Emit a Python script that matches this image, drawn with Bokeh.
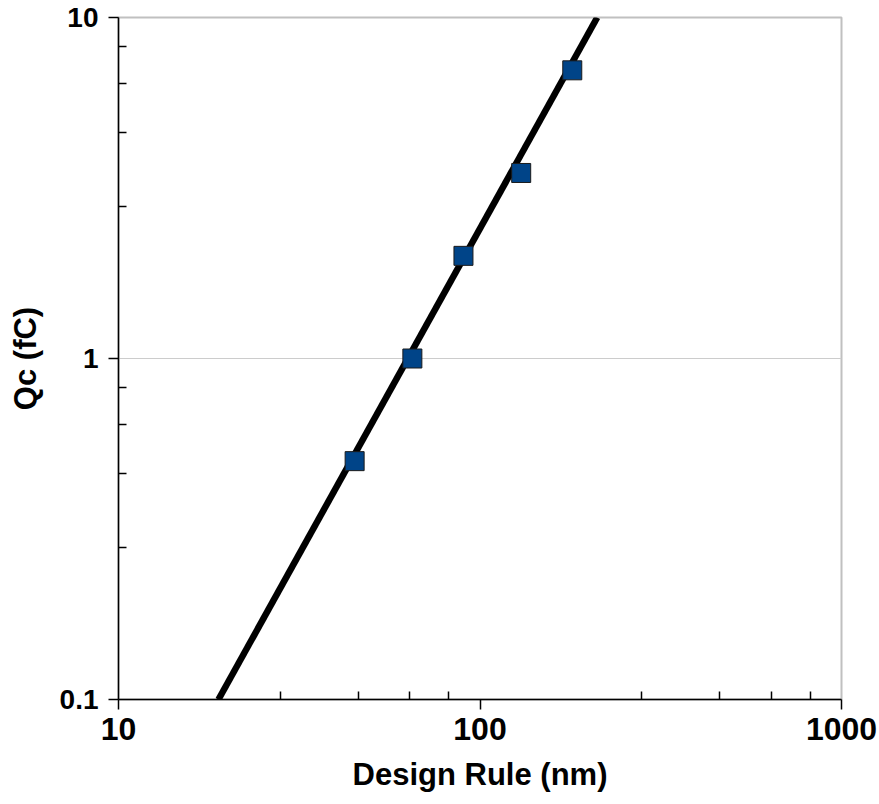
from bokeh.plotting import figure
from bokeh.models import FixedTicker, NumeralTickFormatter, ColumnDataSource
from bokeh.embed import file_html
from bokeh.resources import INLINE

# Critical charge versus technology node
design_rule_nm = [45, 65, 90, 130, 180]
qc_fc = [0.5, 1.0, 2.0, 3.5, 7.0]

# Power-law trend line end points (spans the full plot height)
trend_x = [18.9, 211.0]
trend_y = [0.1, 10.0]

x_major = [10, 100, 1000]
y_major = [0.1, 1, 10]


def decade_minors(majors):
    # five equal linear steps inside each decade
    out = []
    for m in majors[:-1]:
        out += [m * (1 + 1.8 * k) for k in range(1, 5)]
    return out


p = figure(
    width=879, height=804,
    x_axis_type="log", y_axis_type="log",
    x_range=(10, 1000), y_range=(0.1, 10),
    output_backend="svg", toolbar_location=None,
    min_border_left=118, min_border_right=38,
    min_border_top=17, min_border_bottom=105,
)
p.background_fill_color = "white"
p.border_fill_color = "white"
p.outline_line_color = "#c0c0c0"
p.outline_line_width = 2

p.line(trend_x, trend_y, line_color="black", line_width=6.5)

src = ColumnDataSource(dict(x=design_rule_nm, y=qc_fc))
p.scatter("x", "y", source=src, marker="square", size=19,
          fill_color="#004488", line_color="#1a1a1a", line_width=1)

p.xaxis.ticker = FixedTicker(ticks=x_major, minor_ticks=decade_minors(x_major))
p.yaxis.ticker = FixedTicker(ticks=y_major, minor_ticks=decade_minors(y_major))
p.xaxis.formatter = NumeralTickFormatter(format="0[.][0]")
p.yaxis.formatter = NumeralTickFormatter(format="0[.][0]")

for ax in (p.xaxis, p.yaxis):
    ax.axis_line_color = "black"
    ax.axis_line_width = 1.5
    ax.major_tick_line_color = "black"
    ax.major_tick_line_width = 1.5
    ax.minor_tick_line_color = "black"
    ax.minor_tick_line_width = 1.5
    ax.major_tick_out = 10
    ax.major_tick_in = 0
    ax.minor_tick_out = 0
    ax.minor_tick_in = 8
    ax.major_label_text_font = "Liberation Sans"
    ax.major_label_text_font_style = "bold"
    ax.major_label_text_color = "black"
    ax.axis_label_text_font = "Liberation Sans"
    ax.axis_label_text_font_style = "bold"
    ax.axis_label_text_font_size = "31px"
    ax.axis_label_text_color = "black"

p.xaxis.major_label_text_font_size = "32px"
p.yaxis.major_label_text_font_size = "28px"

p.xaxis.axis_label = "Design Rule (nm)"
p.yaxis.axis_label = "Qc (fC)"
p.xaxis.major_label_standoff = 8
p.yaxis.major_label_standoff = 10
p.xaxis.axis_label_standoff = 14
p.yaxis.axis_label_standoff = 14

p.xgrid.grid_line_color = None
p.ygrid.grid_line_color = "#cccccc"
p.ygrid.grid_line_width = 1

open("out.html", "w").write(file_html(p, INLINE))
